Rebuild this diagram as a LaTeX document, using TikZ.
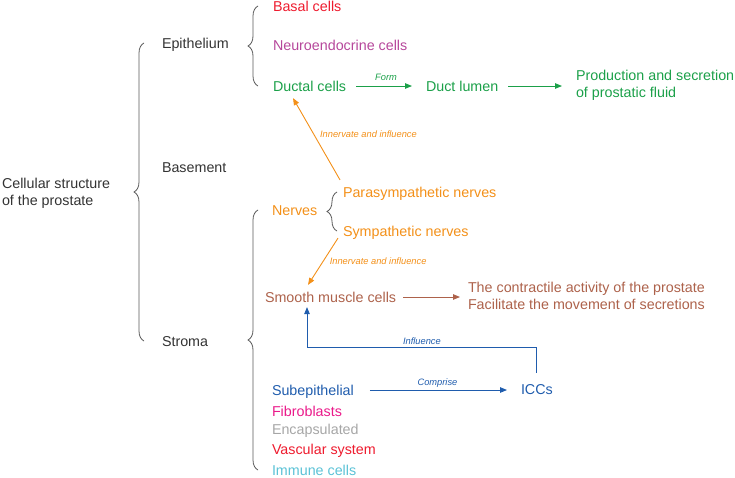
\documentclass[tikz,border=0pt]{standalone}
\usepackage{fontspec}
\setmainfont{Liberation Sans}
\usetikzlibrary{positioning,calc,arrows.meta,decorations.pathreplacing}
\definecolor{txtgray}{HTML}{333333}
\definecolor{cred}{HTML}{EE1B2E}
\definecolor{cmagenta}{HTML}{B6479B}
\definecolor{cgreen}{HTML}{1BA049}
\definecolor{corange}{HTML}{F39019}
\definecolor{cbrown}{HTML}{AD624B}
\definecolor{cblue}{HTML}{1F5CAD}
\definecolor{cpink}{HTML}{EA1A8A}
\definecolor{cgray}{HTML}{A6A6A6}
\definecolor{clight}{HTML}{5BC2D6}

\begin{document}
\begin{tikzpicture}[
  x=1pt, y=-1pt,
  lbl/.style={inner sep=0pt, outer sep=0pt, font=\fontsize{14.3}{17}\selectfont},
  item/.style={lbl, anchor=west, text height=10.2pt, text depth=0pt},
  twoline/.style={lbl, anchor=base west, align=left},
  note/.style={inner sep=0pt, font=\fontsize{9.3}{11}\selectfont\itshape},
  arr/.style={-{Triangle[length=7pt,width=5.5pt]}, line width=0.9pt},
  brc/.style={decorate, decoration={brace, amplitude=10pt}, draw=black!65, line width=0.8pt},
]
\useasboundingbox (0,0) rectangle (735,477);

% two-line nodes sit on the baseline of their last line
\node (cell) [twoline, txtgray] at (2, 205) {Cellular structure\\of the prostate};

\node (epith) [item, txtgray] at (162, 43) {Epithelium};
\node (basement) [item, txtgray] at (162, 167) {Basement};
\node (stroma) [item, txtgray] at (162, 341) {Stroma};

\node (basal) [item, cred] at (273, 6) {Basal cells};
\node (neuro) [item, cmagenta] at (273, 45) {Neuroendocrine cells};
\node (ductal) [item, cgreen] at (273, 86) {Ductal cells};
\node (lumen) [item, cgreen] at (426, 86) {Duct lumen};
\node (prod) [twoline, cgreen] at (576, 97) {Production and secretion\\of prostatic fluid};

\node (nerves) [item, corange] at (272, 210) {Nerves};
\node (para) [item, corange] at (343, 192) {Parasympathetic nerves};
\node (sym) [item, corange] at (343, 231) {Sympathetic nerves};

\node (smooth) [item, cbrown] at (265, 297) {Smooth muscle cells};
\node (contr) [twoline, cbrown] at (468, 309) {The contractile activity of the prostate\\Facilitate the movement of secretions};

\node (subep) [item, cblue] at (272, 390) {Subepithelial};
\node (iccs) [item, cblue] at (521, 389) {ICCs};
\foreach \n/\c/\y/\t in {fibro/cpink/411/Fibroblasts, encap/cgray/429/Encapsulated,
                         vasc/cred/449/Vascular system, immune/clight/470/Immune cells} {
  \node (\n) [item, \c] at (272, \y) {\t};
}

% braces
\draw[brc] ([xshift=-18pt]stroma.west) -- ([xshift=-18pt]epith.west);
\draw[brc] ([xshift=-15pt]ductal.west) -- ([xshift=-15pt]basal.west);
\draw[brc] ([xshift=-6pt]sym.west) -- ([xshift=-6pt]para.west);
\draw[brc] ([xshift=-14pt]immune.west) -- ([xshift=-14pt]nerves.west);

% epithelium
\draw[arr, cgreen, shorten <=10pt, shorten >=14pt]
  (ductal.east) -- node[note, above=5pt] {Form} (ductal.east -| lumen.west);
\draw[arr, cgreen, shorten <=10pt, shorten >=14pt]
  (lumen.east) -- (lumen.east -| prod.west);

% nerves
\draw[arr, corange]
  ([xshift=-3pt,yshift=7pt]para.north west) --
  node[note, pos=0.56, right=6pt] {Innervate and influence}
  ([xshift=20pt,yshift=-7pt]ductal.south west);
\draw[arr, corange]
  ([xshift=-5pt,yshift=-2pt]sym.south west) --
  node[note, pos=0.49, right=6pt] {Innervate and influence}
  ([xshift=43pt,yshift=7pt]smooth.north west);

\draw[arr, cbrown, shorten <=7pt, shorten >=8pt]
  (smooth.east) -- (smooth.east -| contr.west);

% ICCs
\coordinate (bend) at (307, 347);
\draw[arr, cblue, shorten <=16pt, shorten >=14pt]
  (subep.east) -- node[note, above=2pt] {Comprise} (subep.east -| iccs.west);
\draw[arr, cblue, shorten <=11pt, shorten >=5pt]
  (iccs.north) |- node[note, pos=0.75, above=2pt] {Influence} (bend) -- (bend |- smooth.south);

\end{tikzpicture}
\end{document}
